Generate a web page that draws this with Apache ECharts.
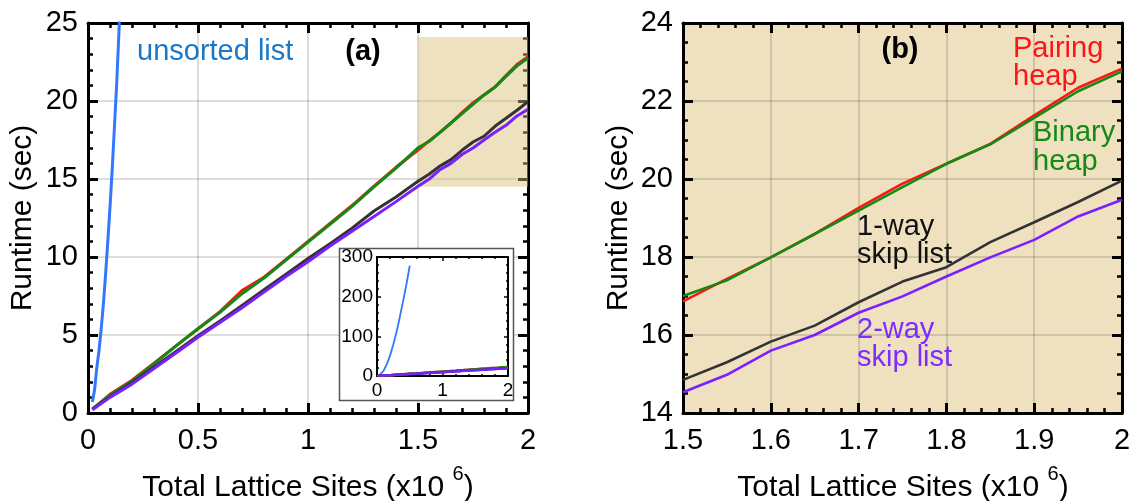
<!DOCTYPE html>
<html><head><meta charset="utf-8">
<script src="https://cdn.jsdelivr.net/npm/echarts@6/dist/echarts.min.js"></script>
<style>html,body{margin:0;padding:0;background:#fff}#c{width:1138px;height:501px}</style>
</head><body><div id="c"></div>
<script>
// ---- data (runtime in seconds vs total lattice sites, x10^6) ----
const xsA = [0.02, 0.1, 0.2, 0.3, 0.4, 0.5, 0.6, 0.7, 0.8, 0.9, 1.0, 1.1, 1.2, 1.3, 1.4];
const pairingA = [0.25, 1.2, 2.1, 3.2, 4.3, 5.4, 6.5, 7.85, 8.7, 9.85, 11.0, 12.15, 13.3, 14.55, 15.75];
const binaryA  = [0.25, 1.15, 2.05, 3.15, 4.3, 5.4, 6.45, 7.65, 8.65, 9.8, 10.95, 12.1, 13.25, 14.5, 15.7];
const oneWayA  = [0.25, 1.05, 1.95, 2.95, 3.95, 4.95, 5.9, 6.9, 7.9, 8.9, 9.9, 10.85, 11.85, 12.95, 13.85];
const twoWayA  = [0.2, 1.0, 1.85, 2.85, 3.85, 4.85, 5.8, 6.75, 7.75, 8.75, 9.7, 10.7, 11.65, 12.6, 13.55];

const xsB = [1.5, 1.55, 1.6, 1.65, 1.7, 1.75, 1.8, 1.85, 1.9, 1.95, 2.0];
const pairingB = [16.86, 17.44, 17.99, 18.59, 19.26, 19.88, 20.39, 20.90, 21.63, 22.34, 22.83];
const binaryB  = [17.00, 17.40, 17.99, 18.59, 19.19, 19.79, 20.39, 20.89, 21.57, 22.25, 22.76];
const oneWayB  = [14.85, 15.30, 15.83, 16.24, 16.84, 17.37, 17.74, 18.38, 18.89, 19.41, 19.96];
const twoWayB  = [14.53, 14.98, 15.60, 16.00, 16.57, 16.99, 17.50, 17.99, 18.44, 19.04, 19.47];

const unsortedX = [0.02, 0.03, 0.04, 0.05, 0.06, 0.07, 0.08, 0.09, 0.1, 0.11, 0.12, 0.13, 0.14, 0.15];
const unsortedY = [0.7, 1.5, 2.9, 4.0, 5.4, 7.0, 8.9, 11.0, 13.2, 15.6, 18.3, 21.0, 24.2, 27.5];

const insetUnsortedX = [0, 0.05, 0.1, 0.15, 0.2, 0.25, 0.3, 0.35, 0.4, 0.45, 0.5];
const insetUnsortedY = [0, 4, 13, 30, 52, 80, 112, 150, 190, 232, 278];

const zoomBox = [1.5, 2.0, 14.5, 24.1];   // shaded region in (a): x0, x1, y0, y1

const ticksA = { xMin: 0, xMax: 2, xStep: 0.5, yMin: 0, yMax: 25, yStep: 5 };
const ticksB = { xMin: 1.5, xMax: 2, xStep: 0.1, yMin: 14, yMax: 24, yStep: 2 };
const ticksI = { xMin: 0, xMax: 2, xStep: 1, yMin: 0, yMax: 300, yStep: 100 };

// ---- build ----
const FONT = '"Liberation Sans", Arial, sans-serif';
const C = { pairing: '#ff1414', binary: '#138a13', oneWay: '#333333', twoWay: '#7a1fff', unsorted: '#3377ff' };
const zip = (xs, ys) => xs.map((x, i) => [x, ys[i]]);
const fullX = xsA.concat(xsB);
const pairing = zip(fullX, pairingA.concat(pairingB));
const binary  = zip(fullX, binaryA.concat(binaryB));
const oneWay  = zip(fullX, oneWayA.concat(oneWayB));
const twoWay  = zip(fullX, twoWayA.concat(twoWayB));

function axis(gridIndex, position, min, max, interval, split, main, big) {
  const lw = big ? 3 : 2;
  return {
    type: 'value', gridIndex, position, min, max, interval,
    z: big ? 0 : 5,
    axisLine: { show: true, onZero: false, lineStyle: { color: '#000', width: lw } },
    axisTick: { show: true, inside: true, length: big ? 10 : 4, lineStyle: { color: '#000', width: big ? 3 : 1.5 } },
    minorTick: { show: true, splitNumber: split, length: big ? 5 : 2, lineStyle: { color: '#000', width: big ? 2.5 : 1.5 } },
    splitLine: { show: main && big, lineStyle: { color: 'rgba(0,0,0,0.18)', width: 1.5 } },
    axisLabel: { show: main, fontSize: big ? 29 : 19, fontFamily: FONT, color: '#000',
                 margin: big ? (position === 'bottom' ? 13 : 10) : (position === 'bottom' ? 5 : 4) }
  };
}

function line(name, data, color, xi, yi, w, z) {
  return { name, type: 'line', data, xAxisIndex: xi, yAxisIndex: yi, showSymbol: false, symbol: 'none',
           lineStyle: { color, width: w }, itemStyle: { color }, z: z || 2, silent: true, animation: false };
}

const grids = [
  { left: 88, top: 23, width: 440, height: 390 },
  { left: 683, top: 23, width: 439, height: 390, show: true, backgroundColor: '#efe1c0', borderWidth: 0 },
  { left: 377, top: 257, width: 131, height: 119 }
];

const xAxes = [
  axis(0, 'bottom', ticksA.xMin, ticksA.xMax, ticksA.xStep, 5, true, true),
  axis(0, 'top', ticksA.xMin, ticksA.xMax, ticksA.xStep, 5, false, true),
  axis(1, 'bottom', ticksB.xMin, ticksB.xMax, ticksB.xStep, 5, true, true),
  axis(1, 'top', ticksB.xMin, ticksB.xMax, ticksB.xStep, 5, false, true),
  axis(2, 'bottom', ticksI.xMin, ticksI.xMax, ticksI.xStep, 5, true, false),
  axis(2, 'top', ticksI.xMin, ticksI.xMax, ticksI.xStep, 5, false, false)
];
const yAxes = [
  axis(0, 'left', ticksA.yMin, ticksA.yMax, ticksA.yStep, 5, true, true),
  axis(0, 'right', ticksA.yMin, ticksA.yMax, ticksA.yStep, 5, false, true),
  axis(1, 'left', ticksB.yMin, ticksB.yMax, ticksB.yStep, 4, true, true),
  axis(1, 'right', ticksB.yMin, ticksB.yMax, ticksB.yStep, 4, false, true),
  axis(2, 'left', ticksI.yMin, ticksI.yMax, ticksI.yStep, 5, true, false),
  axis(2, 'right', ticksI.yMin, ticksI.yMax, ticksI.yStep, 5, false, false)
];

const series = [
  // shaded zoom region in (a)
  { type: 'line', xAxisIndex: 0, yAxisIndex: 0, data: [], symbol: 'none', z: 1, silent: true, animation: false,
    markArea: { silent: true, itemStyle: { color: 'rgba(215,188,115,0.45)' },
      data: [[{ coord: [zoomBox[0], zoomBox[2]] }, { coord: [zoomBox[1], zoomBox[3]] }]] } },
  line('unsorted list', zip(unsortedX, unsortedY), C.unsorted, 0, 0, 3),
  line('Pairing heap', pairing, C.pairing, 0, 0, 3),
  line('Binary heap', binary, C.binary, 0, 0, 3),
  line('1-way skip list', oneWay, C.oneWay, 0, 0, 3),
  line('2-way skip list', twoWay, C.twoWay, 0, 0, 3),
  line('Pairing heap', zip(xsB, pairingB), C.pairing, 2, 2, 2.6),
  line('Binary heap', zip(xsB, binaryB), C.binary, 2, 2, 2.6),
  line('1-way skip list', zip(xsB, oneWayB), C.oneWay, 2, 2, 2.6),
  line('2-way skip list', zip(xsB, twoWayB), C.twoWay, 2, 2, 2.6),
  line('unsorted list', zip(insetUnsortedX, insetUnsortedY), C.unsorted, 4, 4, 1.8, 6),
  line('Pairing heap', pairing, C.pairing, 4, 4, 2.5, 6),
  line('Binary heap', binary, C.binary, 4, 4, 2.5, 6),
  line('1-way skip list', oneWay, C.oneWay, 4, 4, 2.5, 6),
  line('2-way skip list', twoWay, C.twoWay, 4, 4, 2.5, 6)
];

function txt(x, y, text, color, opts) {
  opts = opts || {};
  return { type: 'text', x, y, z: 10, silent: true, rotation: opts.rotation || 0,
    style: { text, fill: color || '#000', fontSize: opts.size || 29, fontFamily: FONT,
             fontWeight: opts.bold ? 'bold' : 'normal', align: opts.align || 'left', verticalAlign: 'middle' } };
}
const mctx = document.createElement('canvas').getContext('2d');
function measure(s, size) { mctx.font = size + 'px ' + FONT; return mctx.measureText(s).width; }
function xTitle(cx) {
  const p1 = 'Total Lattice Sites (x10 ', p2 = '6', p3 = ')';
  const w1 = measure(p1, 30), w2 = measure(p2, 20), w3 = measure(p3, 30);
  const x0 = cx - (w1 + w2 + w3) / 2;
  return [
    txt(x0, 488, p1, '#000', { size: 30 }),
    txt(x0 + w1, 474, p2, '#000', { size: 20 }),
    txt(x0 + w1 + w2, 488, p3, '#000', { size: 30 })
  ];
}

const graphic = [
  { type: 'rect', z: 1, silent: true, shape: { x: 339.5, y: 248.5, width: 174, height: 152 },
    style: { fill: '#fff', stroke: '#555', lineWidth: 1.5 } },
  txt(23, 218, 'Runtime (sec)', '#000', { size: 30, align: 'center', rotation: Math.PI / 2 }),
  txt(619, 218, 'Runtime (sec)', '#000', { size: 30, align: 'center', rotation: Math.PI / 2 }),
  ...xTitle(308), ...xTitle(903),
  txt(137, 52, 'unsorted list', '#1a78c8'),
  txt(363, 52, '(a)', '#000', { bold: true, align: 'center' }),
  txt(900, 50, '(b)', '#000', { bold: true, align: 'center' }),
  txt(1013, 49, 'Pairing', C.pairing), txt(1013, 77, 'heap', C.pairing),
  txt(1033, 133, 'Binary', C.binary), txt(1033, 162, 'heap', C.binary),
  txt(857, 227, '1-way', '#111'), txt(857, 255, 'skip list', '#111'),
  txt(857, 330, '2-way', '#7d2cff'), txt(857, 358, 'skip list', '#7d2cff')
];

const chart = echarts.init(document.getElementById('c'), null, { renderer: 'canvas' });
chart.setOption({ animation: false, grid: grids, xAxis: xAxes, yAxis: yAxes, series, graphic });
</script>
</body></html>
